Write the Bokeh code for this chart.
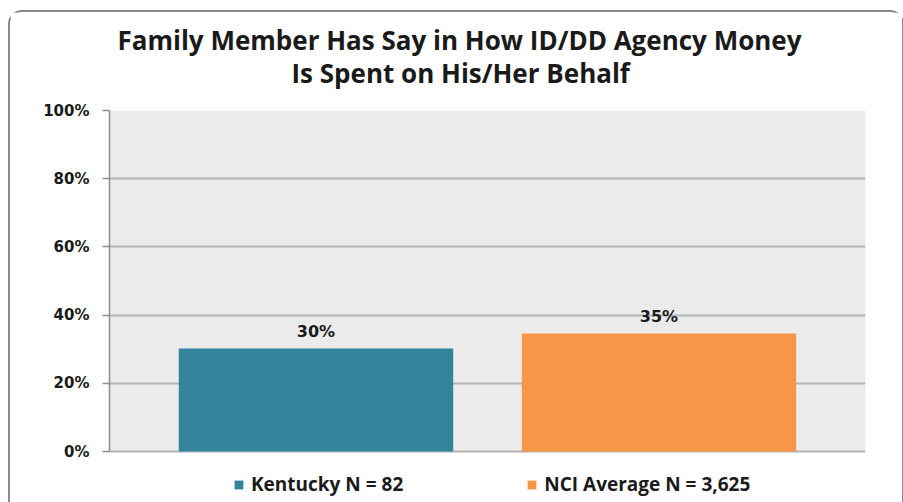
from bokeh.plotting import figure
from bokeh.models import (ColumnDataSource, Range1d, FixedTicker, Legend, LegendItem,
                          LabelSet, Title, BoxAnnotation)
from bokeh.core.properties import value
from bokeh.embed import file_html
from bokeh.resources import INLINE

# ---- data ----
title_lines = ["Family Member Has Say in How ID/DD Agency Money",
               "Is Spent on His/Her Behalf"]
series_names = ["Kentucky N = 82", "NCI Average N = 3,625"]
values = [30.2, 34.6]
value_labels = ["30%", "35%"]
colors = ["#31849B", "#F79646"]
y_ticks = [0, 20, 40, 60, 80, 100]
y_tick_labels = ["0%", "20%", "40%", "60%", "80%", "100%"]

positions = list(range(len(values)))
source = ColumnDataSource(dict(x=positions, top=values, color=colors,
                               name=series_names, label=value_labels))

# frame reaches the bottom edge so the legend (drawn inside it) stays visible;
# the value area (0..100) is 341 px tall, 51 px of legend room below it
FL, FT, FR = 99, 98, 37
y_min = -51 / 3.41
p = figure(frame_width=756, frame_height=392, output_backend="svg",
           toolbar_location=None,
           x_range=Range1d(-0.602, 1.602), y_range=Range1d(y_min, 100),
           min_border_left=FL, min_border_right=FR, min_border_top=FT,
           min_border_bottom=0)
p.styles = {"position": "relative", "left": "8px", "top": "10px",
            "border": "2px solid #8a8a8a", "border-bottom": "none",
            "border-radius": "14px 14px 0 0", "box-sizing": "border-box"}

p.border_fill_color = "white"
p.background_fill_color = "white"
p.outline_line_color = None

# grey plot area between 0% and 100%
p.add_layout(BoxAnnotation(bottom=y_ticks[0], top=y_ticks[-1], fill_color="#EBEBEB",
                           fill_alpha=1, line_color=None, level="image"))

renderers = []
for i in positions:
    r = p.vbar(x=[positions[i]], top=[values[i]], width=0.8, fill_color=colors[i],
               line_color=None)
    renderers.append(r)

labels = LabelSet(x="x", y="top", text="label", source=source, text_align="center",
                  text_baseline="alphabetic", y_offset=12,
                  text_font=value("DejaVu Sans"), text_font_style=value("bold"),
                  text_font_size=value("16px"), text_color=value("#1a1a1a"))
p.add_layout(labels)

# axes
p.xaxis.visible = False
p.xgrid.grid_line_color = None
p.ygrid.grid_line_color = "#B4B4B4"
p.ygrid.grid_line_width = 2
p.yaxis.ticker = FixedTicker(ticks=y_ticks)
p.ygrid.ticker = FixedTicker(ticks=y_ticks)
p.yaxis.bounds = (y_ticks[0], y_ticks[-1])
p.yaxis.major_label_overrides = {t: l for t, l in zip(y_ticks, y_tick_labels)}
p.yaxis.axis_line_color = "#8c8c8c"
p.yaxis.axis_line_width = 1.5
p.yaxis.major_tick_line_color = "#8c8c8c"
p.yaxis.major_tick_line_width = 1.5
p.yaxis.major_tick_out = 7
p.yaxis.major_tick_in = 0
p.yaxis.minor_tick_line_color = None
p.yaxis.major_label_standoff = 13
p.yaxis.major_label_text_font = "DejaVu Sans"
p.yaxis.major_label_text_font_style = "bold"
p.yaxis.major_label_text_font_size = "15px"
p.yaxis.major_label_text_color = "#1a1a1a"

# title: spacer nearest the frame, then line 2, then line 1
p.add_layout(Title(text=" ", text_font_size="1px", standoff=18), "above")
title_offsets = [8, 182]
for i in [1, 0]:
    p.add_layout(Title(text=title_lines[i], align="left", offset=title_offsets[i],
                       vertical_align="middle", standoff=-5,
                       text_font="Open Sans", text_font_style="bold",
                       text_font_size="26px", text_color="#1a1a1a"), "above")

# legend inside the frame's bottom strip
items = [LegendItem(label=series_names[i], renderers=[renderers[i]]) for i in positions]
legend = Legend(items=items, orientation="horizontal", location=(124, 5),
                glyph_width=11, glyph_height=11, label_standoff=7, spacing=123,
                label_text_font="Open Sans", label_text_font_style="bold",
                label_text_font_size="19px", label_text_color="#1a1a1a",
                label_height=20, padding=0, margin=0,
                border_line_color=None, background_fill_alpha=0)
p.add_layout(legend, "center")

open("out.html", "w").write(file_html(p, INLINE))
